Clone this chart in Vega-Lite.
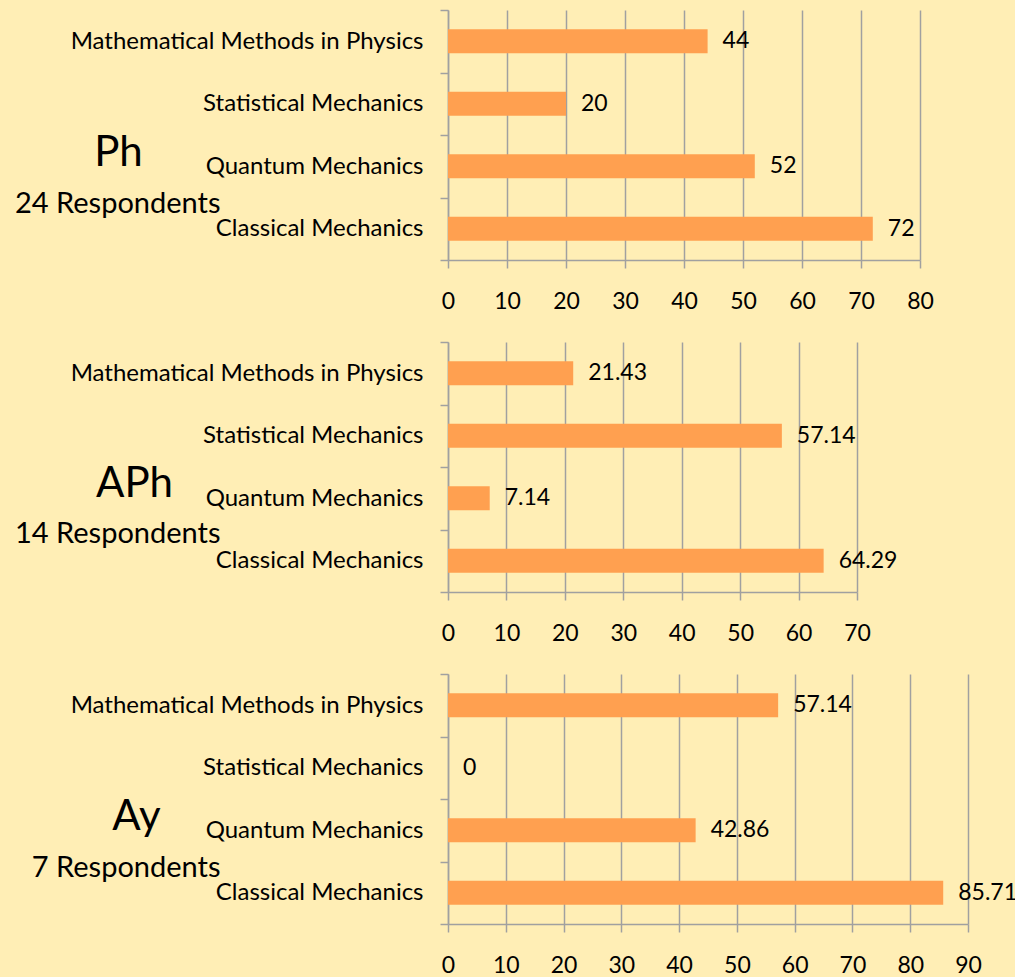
{
  "$schema": "https://vega.github.io/schema/vega-lite/v6.json",
  "background": "#FFEEB5",
  "padding": {"left": 14, "top": -2, "right": 0, "bottom": 0},
  "config": {
    "view": {"stroke": null},
    "font": "Lato",
    "concat": {"spacing": 17},
    "axis": {
      "domainColor": "#A0A0A0",
      "domainWidth": 1.5,
      "tickColor": "#A0A0A0",
      "tickWidth": 1.5,
      "tickSize": 8,
      "gridColor": "#A0A0A0",
      "gridWidth": 1.5,
      "labelColor": "#000000",
      "labelFont": "Lato",
      "titleFont": "Lato",
      "titleColor": "#000000",
      "titleFontWeight": "normal",
      "titleAngle": 0
    },
    "axisX": {"labelFontSize": 23, "labelPadding": 22, "grid": true, "labelFlush": false, "labelOverlap": false},
    "axisY": {"labelFontSize": 24, "labelPadding": 17, "grid": false, "tickBand": "extent", "labelLimit": 0, "titleFontSize": 42, "titleAlign": "center", "titleBaseline": "alphabetic"}
  },
  "datasets": {
    "courses": [
      {"panel": "Ph", "course": "Mathematical Methods in Physics", "value": 44},
      {"panel": "Ph", "course": "Statistical Mechanics", "value": 20},
      {"panel": "Ph", "course": "Quantum Mechanics", "value": 52},
      {"panel": "Ph", "course": "Classical Mechanics", "value": 72},
      {"panel": "APh", "course": "Mathematical Methods in Physics", "value": 21.43},
      {"panel": "APh", "course": "Statistical Mechanics", "value": 57.14},
      {"panel": "APh", "course": "Quantum Mechanics", "value": 7.14},
      {"panel": "APh", "course": "Classical Mechanics", "value": 64.29},
      {"panel": "Ay", "course": "Mathematical Methods in Physics", "value": 57.14},
      {"panel": "Ay", "course": "Statistical Mechanics", "value": 0},
      {"panel": "Ay", "course": "Quantum Mechanics", "value": 42.86},
      {"panel": "Ay", "course": "Classical Mechanics", "value": 85.71}
    ]
  },
  "vconcat": [
    {
      "width": 472,
      "height": 250,
      "data": {"name": "courses"},
      "transform": [{"filter": "datum.panel === 'Ph'"}],
      "encoding": {
        "y": {"field": "course", "type": "nominal",
              "sort": ["Mathematical Methods in Physics", "Statistical Mechanics", "Quantum Mechanics", "Classical Mechanics"],
              "scale": {"paddingInner": 0, "paddingOuter": 0},
              "axis": {"title": "Ph", "titleX": -330, "titleY": 155}},
        "x": {"field": "value", "type": "quantitative", "scale": {"domain": [0, 80], "nice": false},
              "axis": {"values": [0, 10, 20, 30, 40, 50, 60, 70, 80], "title": "24 Respondents", "titleFontSize": 29, "titleAlign": "right", "titleBaseline": "alphabetic", "titleX": -228, "titleY": -48}}
      },
      "layer": [
        {"mark": {"type": "bar", "color": "#FFA050", "size": 24}},
        {"mark": {"type": "text", "align": "left", "baseline": "middle", "dx": 15, "fontSize": 23, "color": "#000000"},
         "encoding": {"text": {"field": "value", "type": "quantitative"}}}
      ]
    },
    {
      "width": 409,
      "height": 250,
      "data": {"name": "courses"},
      "transform": [{"filter": "datum.panel === 'APh'"}],
      "encoding": {
        "y": {"field": "course", "type": "nominal",
              "sort": ["Mathematical Methods in Physics", "Statistical Mechanics", "Quantum Mechanics", "Classical Mechanics"],
              "scale": {"paddingInner": 0, "paddingOuter": 0},
              "axis": {"title": "APh", "titleX": -314, "titleY": 154}},
        "x": {"field": "value", "type": "quantitative", "scale": {"domain": [0, 70], "nice": false},
              "axis": {"values": [0, 10, 20, 30, 40, 50, 60, 70], "title": "14 Respondents", "titleFontSize": 29, "titleAlign": "right", "titleBaseline": "alphabetic", "titleX": -228, "titleY": -50}}
      },
      "layer": [
        {"mark": {"type": "bar", "color": "#FFA050", "size": 24}},
        {"mark": {"type": "text", "align": "left", "baseline": "middle", "dx": 15, "fontSize": 23, "color": "#000000"},
         "encoding": {"text": {"field": "value", "type": "quantitative"}}}
      ]
    },
    {
      "width": 520,
      "height": 250,
      "data": {"name": "courses"},
      "transform": [{"filter": "datum.panel === 'Ay'"}],
      "encoding": {
        "y": {"field": "course", "type": "nominal",
              "sort": ["Mathematical Methods in Physics", "Statistical Mechanics", "Quantum Mechanics", "Classical Mechanics"],
              "scale": {"paddingInner": 0, "paddingOuter": 0},
              "axis": {"title": "Ay", "titleX": -312, "titleY": 155}},
        "x": {"field": "value", "type": "quantitative", "scale": {"domain": [0, 90], "nice": false},
              "axis": {"values": [0, 10, 20, 30, 40, 50, 60, 70, 80, 90], "title": "7 Respondents", "titleFontSize": 29, "titleAlign": "right", "titleBaseline": "alphabetic", "titleX": -228, "titleY": -48}}
      },
      "layer": [
        {"mark": {"type": "bar", "color": "#FFA050", "size": 24}},
        {"mark": {"type": "text", "align": "left", "baseline": "middle", "dx": 15, "fontSize": 23, "color": "#000000"},
         "encoding": {"text": {"field": "value", "type": "quantitative"}}}
      ]
    }
  ]
}
